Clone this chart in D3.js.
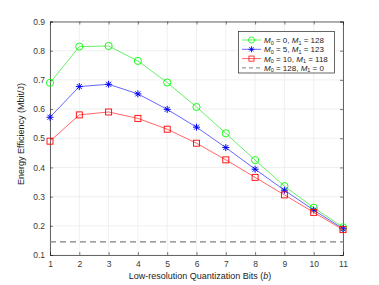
<!DOCTYPE html>
<html>
<head>
<meta charset="utf-8">
<script src="https://cdn.jsdelivr.net/npm/d3@7"></script>
<style>
  body { margin: 0; background: #fff; }
  text { font-family: "Liberation Sans", Arial, sans-serif; }
</style>
</head>
<body>
<script>
// data
var bits = [1, 2, 3, 4, 5, 6, 7, 8, 9, 10, 11];
var effM0 = [0.690, 0.814, 0.816, 0.765, 0.691, 0.607, 0.517, 0.425, 0.336, 0.262, 0.195];
var effM5 = [0.572, 0.677, 0.685, 0.652, 0.599, 0.538, 0.468, 0.394, 0.322, 0.254, 0.190];
var effM10 = [0.490, 0.580, 0.590, 0.568, 0.531, 0.483, 0.426, 0.366, 0.306, 0.246, 0.187];
var effFull = 0.145;
var xTicks = [1, 2, 3, 4, 5, 6, 7, 8, 9, 10, 11];
var yTicks = [0.1, 0.2, 0.3, 0.4, 0.5, 0.6, 0.7, 0.8, 0.9];

var width = 379, height = 285;
var pLeft = 50, pRight = 343, pTop = 21.5, pBottom = 255;

var svg = d3.select("body").append("svg")
    .attr("width", width).attr("height", height);

var x = d3.scaleLinear().domain([1, 11]).range([pLeft, pRight]);
var y = d3.scaleLinear().domain([0.1, 0.9]).range([pBottom, pTop]);

// grid
svg.append("g").selectAll("line").data(xTicks).enter().append("line")
    .attr("x1", d => x(d)).attr("x2", d => x(d))
    .attr("y1", pTop).attr("y2", pBottom)
    .attr("stroke", "#e6e6e6").attr("stroke-width", 0.6);
svg.append("g").selectAll("line").data(yTicks).enter().append("line")
    .attr("y1", d => y(d)).attr("y2", d => y(d))
    .attr("x1", pLeft).attr("x2", pRight)
    .attr("stroke", "#e6e6e6").attr("stroke-width", 0.6);

// axes (inward ticks, box)
var axisColor = "#262626";
var xAxis = d3.axisBottom(x).tickValues(xTicks).tickSize(-3).tickPadding(6).tickFormat(d3.format("d"));
var yAxis = d3.axisLeft(y).tickValues(yTicks).tickSize(-3).tickPadding(5).tickFormat(d3.format(".1f"));

svg.append("g").attr("transform", "translate(0," + pBottom + ")").call(xAxis);
svg.append("g").attr("transform", "translate(" + pLeft + ",0)").call(yAxis);
svg.append("g").attr("transform", "translate(0," + pTop + ")")
    .call(d3.axisTop(x).tickValues(xTicks).tickSize(-3).tickFormat(""));
svg.append("g").attr("transform", "translate(" + pRight + ",0)")
    .call(d3.axisRight(y).tickValues(yTicks).tickSize(-3).tickFormat(""));

svg.selectAll(".domain").attr("stroke", axisColor).attr("stroke-width", 0.7);
svg.selectAll(".tick line").attr("stroke", axisColor).attr("stroke-width", 0.6);
svg.selectAll(".tick text").attr("fill", "#3a3a3a").attr("font-size", 8.5)
    .attr("font-family", "Liberation Sans, Arial, sans-serif");

// axis labels
var xl = svg.append("text").attr("x", 200).attr("y", 279)
    .attr("text-anchor", "middle").attr("font-size", 9).attr("fill", "#222");
xl.append("tspan").text("Low-resolution Quantization Bits (");
xl.append("tspan").attr("font-style", "italic").text("b");
xl.append("tspan").text(")");

svg.append("text").attr("transform", "translate(24,134) rotate(-90)")
    .attr("text-anchor", "middle").attr("font-size", 9).attr("fill", "#222")
    .text("Energy Efficiency (Mbit/J)");

// series
var line = d3.line().x((d, i) => x(bits[i])).y(d => y(d));

svg.append("line")
    .attr("x1", x(1)).attr("x2", x(11))
    .attr("y1", y(effFull)).attr("y2", y(effFull))
    .attr("stroke", "#808080").attr("stroke-width", 1.1)
    .attr("stroke-dasharray", "6,4");

var series = [
  { vals: effM0, color: "#00ff00", lineColor: "#55ee55", marker: "circle" },
  { vals: effM5, color: "#0000ff", lineColor: "#5555ff", marker: "star" },
  { vals: effM10, color: "#ff0000", lineColor: "#ff5555", marker: "square" }
];

series.forEach(function(s) {
  svg.append("path").datum(s.vals)
      .attr("d", line).attr("fill", "none")
      .attr("stroke", s.lineColor).attr("stroke-width", 0.9);
  drawMarkers(svg, s.vals.map((v, i) => [x(bits[i]), y(v)]), s.marker, s.color);
});

function drawMarkers(g, pts, type, color) {
  var m = g.append("g");
  pts.forEach(function(p) {
    if (type === "circle") {
      m.append("circle").attr("cx", p[0]).attr("cy", p[1]).attr("r", 3.6)
          .attr("fill", "none").attr("stroke", color).attr("stroke-width", 0.9);
    } else if (type === "square") {
      m.append("rect").attr("x", p[0] - 3).attr("y", p[1] - 3)
          .attr("width", 6).attr("height", 6)
          .attr("fill", "none").attr("stroke", color).attr("stroke-width", 0.9);
    } else {
      var r = 3.5, d = 2.5;
      var segs = [[-r, 0, r, 0], [0, -r, 0, r], [-d, -d, d, d], [-d, d, d, -d]];
      segs.forEach(function(sg) {
        m.append("line")
            .attr("x1", p[0] + sg[0]).attr("y1", p[1] + sg[1])
            .attr("x2", p[0] + sg[2]).attr("y2", p[1] + sg[3])
            .attr("stroke", color).attr("stroke-width", 1);
      });
    }
  });
}

// legend
var legend = svg.append("g");
legend.append("rect").attr("x", 238.5).attr("y", 31.5).attr("width", 96).attr("height", 41.5)
    .attr("fill", "#fff").attr("stroke", "#262626").attr("stroke-width", 0.7);

var legendItems = [
  { m0: "0", m1: "128", color: "#00ff00", lineColor: "#55ee55", marker: "circle", dash: false },
  { m0: "5", m1: "123", color: "#0000ff", lineColor: "#5555ff", marker: "star", dash: false },
  { m0: "10", m1: "118", color: "#ff0000", lineColor: "#ff5555", marker: "square", dash: false },
  { m0: "128", m1: "0", color: "#808080", lineColor: "#808080", marker: null, dash: true }
];

legendItems.forEach(function(it, i) {
  var ly = 40 + i * 9.3;
  legend.append("line").attr("x1", 242).attr("x2", 261).attr("y1", ly).attr("y2", ly)
      .attr("stroke", it.lineColor).attr("stroke-width", it.dash ? 1 : 0.9)
      .attr("stroke-dasharray", it.dash ? "4,3" : null);
  if (it.marker) {
    var sc = legend.append("g").attr("transform", "translate(251.5," + ly + ") scale(0.85) translate(-251.5," + (-ly) + ")");
    drawMarkers(sc, [[251.5, ly]], it.marker, it.color);
  }
  var t = legend.append("text").attr("x", 264).attr("y", ly + 3)
      .attr("font-family", "Liberation Serif, 'DejaVu Serif', serif")
      .attr("font-size", 8).attr("fill", "#222");
  t.append("tspan").attr("font-style", "italic").text("M");
  t.append("tspan").attr("font-size", 5.5).attr("dy", 1.5).text("0");
  t.append("tspan").attr("dy", -1.5).text(" = " + it.m0 + ", ");
  t.append("tspan").attr("font-style", "italic").text("M");
  t.append("tspan").attr("font-size", 5.5).attr("dy", 1.5).text("1");
  t.append("tspan").attr("dy", -1.5).text(" = " + it.m1);
});
</script>
</body>
</html>
